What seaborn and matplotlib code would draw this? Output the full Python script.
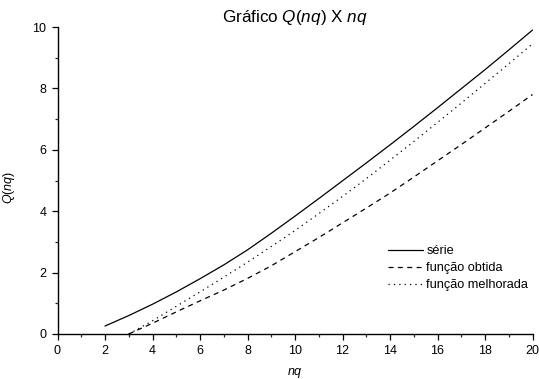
import numpy as np
import pandas as pd
import matplotlib
matplotlib.use("Agg")
import matplotlib.pyplot as plt
import seaborn as sns
from matplotlib.ticker import MultipleLocator

sns.set_theme(style="ticks")
plt.rcParams['font.family'] = ['Liberation Sans', 'DejaVu Sans']
plt.rcParams['mathtext.fontset'] = 'custom'
plt.rcParams['mathtext.rm'] = 'Liberation Sans'
plt.rcParams['mathtext.it'] = 'Liberation Sans:italic'
plt.rcParams['text.color'] = 'black'
plt.rcParams['axes.labelcolor'] = 'black'

# values
nq_serie = [2, 3, 4, 5, 6, 7, 8, 9, 10, 11, 12, 13, 14, 15, 16, 17, 18, 19, 20]
q_serie = [0.26, 0.60, 0.97, 1.37, 1.80, 2.25, 2.74, 3.28, 3.84, 4.41, 4.99,
           5.57, 6.16, 6.76, 7.37, 7.99, 8.61, 9.25, 9.90]

nq_fit = [3, 4, 5, 6, 7, 8, 9, 10, 11, 12, 13, 14, 15, 16, 17, 18, 19, 20]
q_obtida = [0.0, 0.35, 0.72, 1.08, 1.43, 1.81, 2.22, 2.68, 3.14, 3.62, 4.10,
            4.59, 5.11, 5.64, 6.17, 6.71, 7.25, 7.80]
q_melhorada = [0.0, 0.43, 0.90, 1.37, 1.85, 2.34, 2.85, 3.37, 3.92, 4.48,
               5.06, 5.66, 6.27, 6.89, 7.52, 8.16, 8.80, 9.45]

df_serie = pd.DataFrame({'nq': nq_serie, 'Q': q_serie})
df_obt = pd.DataFrame({'nq': nq_fit, 'Q': q_obtida})
df_mel = pd.DataFrame({'nq': nq_fit, 'Q': q_melhorada})

fig = plt.figure(figsize=(5.39, 3.79), dpi=100)
ax = fig.add_axes([57.5 / 539, 45 / 379, 475 / 539, 307 / 379])

sns.lineplot(data=df_serie, x='nq', y='Q', ax=ax, color='black', lw=0.9, label='série')
sns.lineplot(data=df_obt, x='nq', y='Q', ax=ax, color='black', lw=0.9,
             linestyle=(0, (4, 3.5)), label='função obtida')
sns.lineplot(data=df_mel, x='nq', y='Q', ax=ax, color='black', lw=0.9,
             linestyle=(0, (1, 3.3)), label='função melhorada')

ax.set_xlim(0, 20)
ax.set_ylim(0, 10)
ax.xaxis.set_major_locator(MultipleLocator(2))
ax.xaxis.set_minor_locator(MultipleLocator(1))
ax.yaxis.set_major_locator(MultipleLocator(2))
ax.yaxis.set_minor_locator(MultipleLocator(1))
ax.tick_params(which='major', direction='out', length=4.5, width=0.9, pad=3.5,
               labelsize=9, colors='black')
ax.tick_params(which='minor', direction='out', length=2.2, width=0.9)

sns.despine(ax=ax)
for s in ['left', 'bottom']:
    ax.spines[s].set_linewidth(1.0)
    ax.spines[s].set_color('black')

ax.set_xlabel(r'$\mathit{nq}$', fontsize=9)
ax.set_ylabel(r'$\mathit{Q(nq)}$', fontsize=9)
ax.xaxis.set_label_coords(0.5, -0.105)
ax.yaxis.set_label_coords(-0.085, 0.477)
ax.set_title(r'Gráfico $\mathit{Q}$($\mathit{nq}$) X $\mathit{nq}$', fontsize=12.3,
             pad=2, color='black')

ax.legend(loc='upper left', bbox_to_anchor=(388 / 539, 1 - 245 / 379),
          bbox_transform=fig.transFigure, frameon=False, fontsize=9.2,
          handlelength=2.7, handletextpad=0.3, labelspacing=0.4,
          borderpad=0, borderaxespad=0)

fig.savefig('out.png', dpi=100)
